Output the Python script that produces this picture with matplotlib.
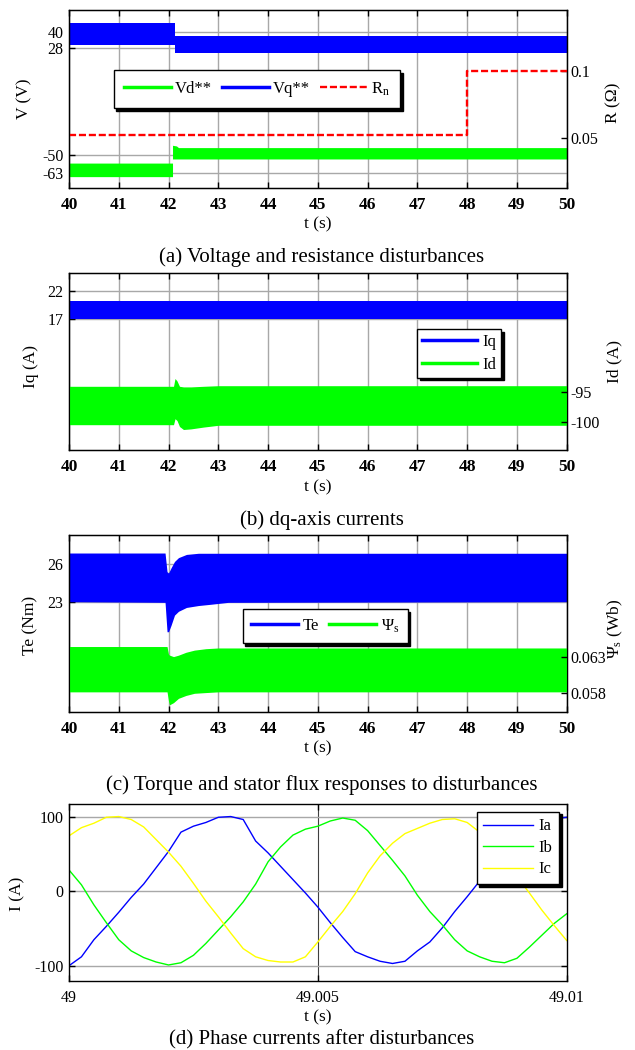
import matplotlib
matplotlib.use("Agg")
import matplotlib.pyplot as plt
from matplotlib.lines import Line2D

plt.rcParams['font.family'] = ['Liberation Serif', 'DejaVu Serif']
plt.rcParams['mathtext.fontset'] = 'custom'
plt.rcParams['mathtext.rm'] = 'Liberation Serif'
plt.rcParams['mathtext.it'] = 'Liberation Serif:italic'
plt.rcParams['axes.unicode_minus'] = False

# ---------------- data ----------------
# (a) voltages (noise band envelopes) and resistance
vq_t = [40.0, 42.13, 42.13, 50.0]
vq_upper = [46.6, 46.6, 37.1, 37.1]
vq_lower = [30.3, 30.3, 24.2, 24.2]
vd_t = [40.0, 42.08, 42.08, 42.16, 42.2, 50.0]
vd_upper = [-56.0, -56.0, -43.0, -43.5, -44.7, -44.7]
vd_lower = [-65.9, -65.9, -53.0, -53.0, -53.0, -53.0]
rn_t = [40.0, 48.0, 50.0]
rn_val = [0.0518, 0.1, 0.1]
a_left_ticks = [-63, -50, 28, 40]
a_right_ticks = [0.05, 0.1]

# (b) dq currents
iq_t = [40.0, 50.0]
iq_upper = [20.25, 20.25]
iq_lower = [17.0, 17.0]
id_t = [40.0, 42.1, 42.13, 42.17, 42.22, 42.3, 42.45, 42.7, 43.0, 50.0]
id_upper = [-94.1, -94.1, -92.8, -93.2, -94.1, -94.2, -94.2, -94.1, -94.0, -94.0]
id_lower = [-100.5, -100.5, -99.5, -99.8, -100.8, -101.3, -101.2, -100.9, -100.6, -100.6]
b_left_ticks = [17, 22]
b_right_ticks = [-100, -95]

# (c) torque and flux
te_t = [40.0, 41.93, 41.97, 42.0, 42.05, 42.12, 42.2, 42.36, 42.6, 42.85, 43.2, 50.0]
te_upper = [26.86, 26.86, 25.4, 25.3, 25.7, 26.2, 26.5, 26.75, 26.84, 26.84, 26.84, 26.84]
te_lower = [23.05, 23.0, 20.7, 20.7, 21.2, 22.0, 22.3, 22.6, 22.75, 22.85, 23.0, 23.05]
psi_t = [40.0, 41.97, 42.0, 42.02, 42.1, 42.2, 42.35, 42.52, 42.75, 43.0, 50.0]
psi_upper = [0.0644, 0.0644, 0.0633, 0.0632, 0.0630, 0.0632, 0.0636, 0.0639, 0.0641, 0.0642, 0.0642]
psi_lower = [0.0581, 0.0581, 0.0568, 0.0563, 0.0566, 0.0572, 0.0576, 0.0579, 0.0580, 0.0581, 0.0581]
c_left_ticks = [23, 26]
c_right_ticks = [0.058, 0.063]

# (d) phase currents, sampled every 0.25 ms from 49 s
ph_t_ms = [0.0, 0.25, 0.5, 0.75, 1.0, 1.25, 1.5, 1.75, 2.0, 2.25, 2.5, 2.75, 3.0, 3.25,
           3.5, 3.75, 4.0, 4.25, 4.5, 4.75, 5.0, 5.25, 5.5, 5.75, 6.0, 6.25, 6.5, 6.75,
           7.0, 7.25, 7.5, 7.75, 8.0, 8.25, 8.5, 8.75, 9.0, 9.25, 9.5, 9.75, 10.0]
ia = [-100, -88, -65, -47, -28, -8, 10, 32, 54, 80, 88, 93, 100, 101,
      97, 68, 52, 34, 16, -2, -21, -42, -62, -81, -88, -94, -97, -94,
      -80, -68, -49, -27, -7, 14, 34, 55, 72, 85, 93, 98, 100]
ib = [29, 9, -18, -42, -65, -80, -89, -95, -99, -96, -86, -70, -52, -34,
      -14, 10, 40, 60, 76, 84, 88, 95, 99, 96, 82, 62, 42, 21,
      -5, -27, -45, -65, -80, -88, -94, -96, -90, -75, -59, -43, -30]
ic = [75, 86, 92, 100, 101, 97, 87, 70, 53, 34, 11, -13, -34, -56,
      -77, -88, -93, -95, -95, -88, -68, -47, -27, -3, 25, 48, 65, 78,
      85, 92, 97, 98, 93, 80, 62, 42, 20, -2, -25, -46, -66]
d_yticks = [-100, 0, 100]
d_xticks = [49, 49.005, 49.01]
d_xticklabels = ['49', '49.005', '49.01']

int_ticks = list(range(40, 51))

# ---------------- styling ----------------
GREEN = '#00ff00'
BLUE = '#0000ff'
RED = '#ff0000'
YELLOW = '#ffff00'
GRID = '#a8a8a8'
TICK_FS = 11.5
LABEL_FS = 12.5
CAP_FS = 15
LEG_FS = 12

fig = plt.figure(figsize=(6.35, 10.5), dpi=100)
W, H = 635.0, 1050.0


def make_ax(top, bottom):
    left, right = 69.0, 566.7
    return fig.add_axes([left / W, 1 - bottom / H, (right - left) / W, (bottom - top) / H])


def style_main(ax, bold_x=True):
    for s in ax.spines.values():
        s.set_linewidth(1.0)
    ax.tick_params(direction='in', length=4, width=1.0, top=True, right=True,
                   labelsize=TICK_FS, pad=6.5)
    ax.tick_params(axis='y', pad=4)
    if bold_x:
        for lab in ax.get_xticklabels():
            lab.set_fontweight('bold')
            lab.set_fontsize(12.5)


def style_twin(tw):
    tw.tick_params(direction='in', length=4, width=1.0, labelsize=TICK_FS, pad=3)


def xlab(ax, frac):
    ax.set_xlabel('t (s)', fontsize=LABEL_FS)
    ax.xaxis.label.set_va('center')
    ax.xaxis.set_label_coords(0.5, frac)


def ylab(ax, text, xfrac, yfrac=0.5):
    ax.set_ylabel(text, fontsize=LABEL_FS)
    ax.yaxis.label.set_va('center')
    ax.yaxis.label.set_ha('center')
    ax.yaxis.set_label_coords(xfrac, yfrac)


def xfrac_of(px):
    return (px - 69.0) / 497.7


LEG_KW = dict(borderaxespad=0, fancybox=False, edgecolor='black', fontsize=LEG_FS,
              framealpha=1, shadow={'color': 'black', 'alpha': 1})

# ---------------- (a) ----------------
ax = make_ax(10, 188)
ax.set_xlim(40, 50)
ax.set_ylim(-74.2, 55.8)
ax.set_xticks(int_ticks)
ax.set_yticks(a_left_ticks)
ax.grid(True, color=GRID, linewidth=1.0)
ax.set_axisbelow(True)
ax.fill_between(vd_t, vd_lower, vd_upper, color=GREEN, linewidth=0)
ax.fill_between(vq_t, vq_lower, vq_upper, color=BLUE, linewidth=0)
style_main(ax)
xlab(ax, -36 / 178)
ylab(ax, 'V (V)', xfrac_of(24))
tw = ax.twinx()
tw.set_ylim(0.0123, 0.1457)
tw.set_yticks(a_right_ticks)
tw.set_yticklabels(['0.05', '0.1'])
tw.plot(rn_t, rn_val, color=RED, linestyle=(0, (3, 1.2)), linewidth=1.7, drawstyle='steps-post')
style_twin(tw)
ylab(tw, 'R (Ω)', xfrac_of(613), 0.48)
hl = [Line2D([], [], color=GREEN, lw=2.5), Line2D([], [], color=BLUE, lw=2.5),
      Line2D([], [], color=RED, lw=1.7, linestyle=(0, (3, 1.2)))]
tw.legend(hl, ['Vd**', 'Vq**', r'R$_\mathrm{n}$'], ncol=3, loc='upper left',
          bbox_to_anchor=(0.0898, 0.663), handlelength=2.8, columnspacing=0.6,
          handletextpad=0.25, borderpad=0.62, **LEG_KW).get_frame().set_linewidth(1.0)

# ---------------- (b) ----------------
B_TOP, B_BOT = 273.3, 450.0
ax = make_ax(B_TOP, B_BOT)
ax.set_xlim(40, 50)
ax.set_ylim(17 - (B_BOT - 319.3) / 5.72, 22 + (290.7 - B_TOP) / 5.72)
ax.set_xticks(int_ticks)
ax.set_yticks(b_left_ticks)
ax.grid(True, color=GRID, linewidth=1.0)
ax.set_axisbelow(True)
ax.fill_between(iq_t, iq_lower, iq_upper, color=BLUE, linewidth=0)
style_main(ax)
xlab(ax, -37 / (B_BOT - B_TOP))
ylab(ax, 'Iq (A)', xfrac_of(31), 0.47)
tw = ax.twinx()
tw.set_ylim(-100 - (B_BOT - 421.7) / 6.0, -95 + (391.7 - B_TOP) / 6.0)
tw.set_yticks(b_right_ticks)
tw.fill_between(id_t, id_lower, id_upper, color=GREEN, linewidth=0)
style_twin(tw)
ylab(tw, 'Id (A)', xfrac_of(614), 0.5)
hl = [Line2D([], [], color=BLUE, lw=2.5), Line2D([], [], color=GREEN, lw=2.5)]
tw.legend(hl, ['Iq', 'Id'], ncol=1, loc='upper left',
          bbox_to_anchor=(0.70, (B_BOT - 329) / (B_BOT - B_TOP)), handlelength=3.3,
          handletextpad=0.3, borderpad=0.3, labelspacing=0.4,
          **LEG_KW).get_frame().set_linewidth(1.0)

# ---------------- (c) ----------------
ax = make_ax(535, 712)
ax.set_xlim(40, 50)
ax.set_ylim(14.42, 28.27)
ax.set_xticks(int_ticks)
ax.set_yticks(c_left_ticks)
ax.grid(True, color=GRID, linewidth=1.0)
ax.set_axisbelow(True)
ax.fill_between(te_t, te_lower, te_upper, color=BLUE, linewidth=0)
style_main(ax)
xlab(ax, -36 / 177)
ylab(ax, 'Te (Nm)', xfrac_of(30), 0.49)
tw = ax.twinx()
tw.set_ylim(0.0553, 0.0799)
tw.set_yticks(c_right_ticks)
tw.fill_between(psi_t, psi_lower, psi_upper, color=GREEN, linewidth=0)
style_twin(tw)
ylab(tw, r'$\Psi_\mathrm{s}$ (Wb)', xfrac_of(615), 0.47)
hl = [Line2D([], [], color=BLUE, lw=2.5), Line2D([], [], color=GREEN, lw=2.5)]
tw.legend(hl, ['Te', r'$\Psi_\mathrm{s}$'], ncol=2, loc='upper left',
          bbox_to_anchor=(0.349, 0.582), handlelength=2.8, columnspacing=0.6,
          handletextpad=0.3, borderpad=0.5, **LEG_KW).get_frame().set_linewidth(1.0)

# ---------------- (d) ----------------
ax = make_ax(804, 981)
t_abs = [49 + v / 1000.0 for v in ph_t_ms]
ax.set_xlim(49, 49.01)
ax.set_ylim(-120.6, 117.9)
ax.set_xticks(d_xticks)
ax.set_xticklabels(d_xticklabels)
ax.set_yticks(d_yticks)
ax.grid(True, axis='y', color=GRID, linewidth=1.0)
ax.axvline(49.005, color='#404040', linewidth=0.8, zorder=0.5)
ax.set_axisbelow(True)
ax.plot(t_abs, ia, color=BLUE, lw=1.0, label='Ia')
ax.plot(t_abs, ib, color=GREEN, lw=1.0, label='Ib')
ax.plot(t_abs, ic, color=YELLOW, lw=1.0, label='Ic')
style_main(ax, bold_x=False)
ax.tick_params(axis='x', pad=6.5)
xlab(ax, -36 / 177)
ylab(ax, 'I (A)', xfrac_of(17), 0.49)
ax.legend(loc='upper left', bbox_to_anchor=(0.819, 0.9565), handlelength=3.0,
          handletextpad=0.3, borderpad=0.4, labelspacing=0.33,
          **LEG_KW).get_frame().set_linewidth(1.0)

# ---------------- captions ----------------
cx = 0.507
fig.text(cx, 1 - 257 / H, '(a) Voltage and resistance disturbances', ha='center', va='center', fontsize=CAP_FS)
fig.text(cx, 1 - 520 / H, '(b) dq-axis currents', ha='center', va='center', fontsize=CAP_FS)
fig.text(cx, 1 - 785 / H, '(c) Torque and stator flux responses to disturbances', ha='center', va='center', fontsize=CAP_FS)
fig.text(cx, 1 - 1040 / H, '(d) Phase currents after disturbances', ha='center', va='center', fontsize=CAP_FS)

fig.savefig('out.png', dpi=100)
